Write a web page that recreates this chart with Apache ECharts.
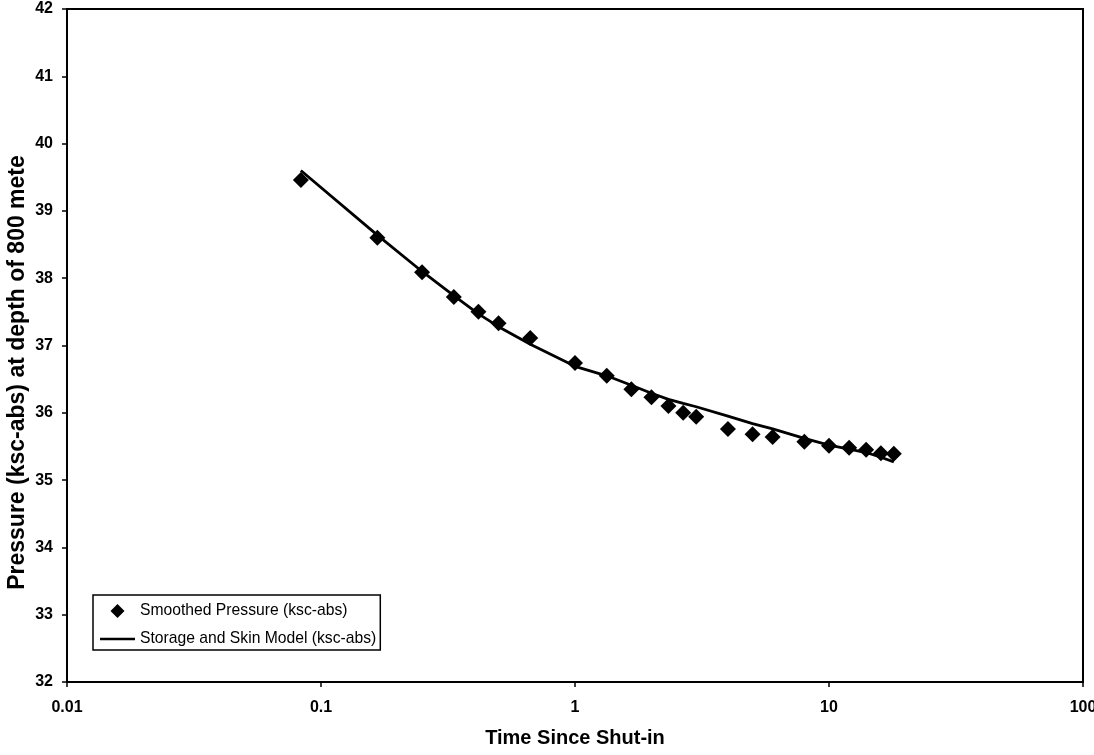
<!DOCTYPE html>
<html>
<head>
<meta charset="utf-8">
<title>Pressure vs time since shut-in</title>
<script src="https://cdn.jsdelivr.net/npm/echarts@6/dist/echarts.min.js"></script>
<style>
    html, body { margin: 0; padding: 0; background: #fff; }
    #pressureChart { width: 1094px; height: 755px; }
</style>
</head>
<body>
<div id="pressureChart"></div>
<script>
// time since shut-in (hours)
var times = [0.0833, 0.1667, 0.25, 0.3333, 0.4167, 0.5, 0.6667, 1, 1.3333, 1.6667, 2, 2.3333, 2.6667, 3, 4, 5, 6, 8, 10, 12, 14, 16, 18];
// smoothed pressure readings (ksc-abs)
var smoothed = [39.46, 38.60, 38.09, 37.72, 37.50, 37.33, 37.11, 36.74, 36.55, 36.35, 36.23, 36.10, 36.00, 35.94, 35.76, 35.68, 35.64, 35.57, 35.51, 35.48, 35.45, 35.40, 35.39];
// storage and skin model (ksc-abs)
var model = [39.60, 38.64, 38.10, 37.74, 37.47, 37.28, 37.02, 36.69, 36.55, 36.41, 36.29, 36.20, 36.14, 36.09, 35.95, 35.84, 35.76, 35.62, 35.52, 35.46, 35.41, 35.34, 35.27];
var seriesNames = ['Smoothed Pressure (ksc-abs)', 'Storage and Skin Model (ksc-abs)'];

var font = "'Liberation Sans', Arial, sans-serif";

function pairs(xs, ys){
    var out = [];
    for (var i = 0; i < xs.length; i++) {
        out.push([xs[i], ys[i]]);
    }
    return out;
}

var chart = echarts.init(document.getElementById('pressureChart'));
var option = {
    backgroundColor: '#fff',
    animation: false,
    textStyle: { fontFamily: font, color: '#000' },
    grid: {
        left: 67,
        right: 11,
        top: 9,
        bottom: 73,
        outerBoundsMode: 'none',
        containLabel: false,
        show: true,
        borderColor: '#000',
        borderWidth: 2
    },
    //图例：菱形和直线
    legend: {
        orient: 'vertical',
        left: 93,
        top: 595,
        padding: [8, 4, 3, 7],
        itemGap: 12,
        itemWidth: 35,
        itemHeight: 14,
        symbolKeepAspect: true,
        borderColor: '#000',
        borderWidth: 1.5,
        borderRadius: 0,
        backgroundColor: '#fff',
        textStyle: { fontFamily: font, fontSize: 15.7, color: '#000' },
        data: [
            { name: seriesNames[0], icon: 'path://M0,-1L1,0L0,1L-1,0Z', itemStyle: { color: '#000', opacity: 1 } },
            { name: seriesNames[1], icon: 'path://M0,0H35V2.5H0Z', itemStyle: { color: '#000', opacity: 1 } }
        ]
    },
    xAxis: {
        type: 'log',
        logBase: 10,
        min: 0.01,
        max: 100,
        name: 'Time Since Shut-in',
        nameLocation: 'middle',
        nameGap: 46,
        nameTextStyle: { fontFamily: font, fontSize: 20, fontWeight: 'bold', color: '#000' },
        axisLine: { lineStyle: { color: '#000', width: 2 } },
        axisTick: { show: true, inside: false, length: 5, lineStyle: { color: '#000', width: 1.5 } },
        minorTick: { show: false },
        splitLine: { show: false },
        axisLabel: {
            margin: 18,
            fontFamily: font,
            fontSize: 16,
            fontWeight: 'bold',
            color: '#000',
            hideOverlap: false,
            formatter: function(v){ return String(+v.toPrecision(6)); }
        }
    },
    yAxis: {
        type: 'value',
        min: 32,
        max: 42,
        interval: 1,
        name: 'Pressure (ksc-abs) at depth of 800 mete',
        nameLocation: 'middle',
        nameGap: 38,
        nameMoveOverlap: false,
        nameTextStyle: { fontFamily: font, fontSize: 23, fontWeight: 'bold', color: '#000', padding: [0, 54, 0, 0] },
        axisLine: { show: true, lineStyle: { color: '#000', width: 2 } },
        axisTick: { show: true, inside: false, length: 5, lineStyle: { color: '#000', width: 1.5 } },
        splitLine: { show: false },
        axisLabel: { margin: 14, fontFamily: font, fontSize: 16, fontWeight: 'bold', color: '#000' }
    },
    series: [
        {
            name: seriesNames[0],
            type: 'scatter',
            symbol: 'diamond',
            symbolSize: 16,
            itemStyle: { color: '#000', opacity: 1 },
            data: pairs(times, smoothed),
            z: 3
        },
        {
            name: seriesNames[1],
            type: 'line',
            symbol: 'none',
            showSymbol: false,
            lineStyle: { color: '#000', width: 2.8 },
            itemStyle: { color: '#000' },
            data: pairs(times, model),
            z: 2
        }
    ]
};
chart.setOption(option);
</script>
</body>
</html>
